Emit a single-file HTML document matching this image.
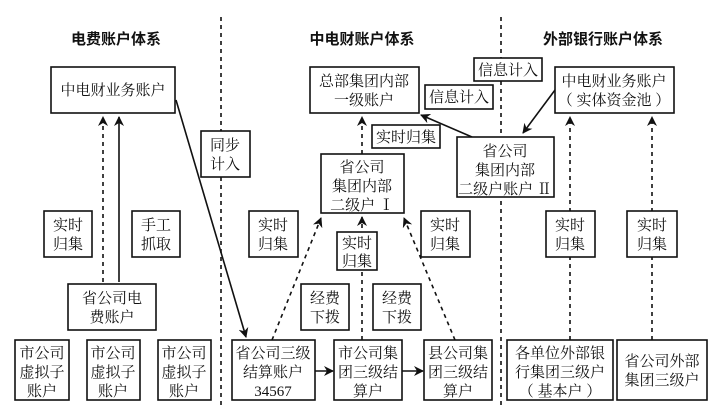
<!DOCTYPE html>
<html><head><meta charset="utf-8"><style>
html,body{margin:0;padding:0;background:#fff;}
svg{display:block}
.t{font-family:"Liberation Serif","Noto Serif CJK SC",serif;font-size:15px;fill:#111;text-anchor:middle}
.h{font-family:"Liberation Sans","Noto Sans CJK SC",sans-serif;font-size:15px;font-weight:bold;fill:#111;text-anchor:middle}
.b{fill:#fff;stroke:#111;stroke-width:1.6}
.s{stroke:#111;stroke-width:1.6;fill:none}
.d{stroke:#111;stroke-width:1.6;fill:none;stroke-dasharray:4,4}
</style></head><body>
<svg width="721" height="416" viewBox="0 0 721 416" xmlns="http://www.w3.org/2000/svg">
<defs><marker id="a" markerWidth="10" markerHeight="10" refX="9" refY="5" orient="auto" markerUnits="userSpaceOnUse"><path d="M0,0 L10,5 L0,10 L3,5 Z" fill="#111"/></marker></defs>
<line class="d" x1="221" y1="17" x2="221" y2="405"/>
<line class="d" x1="501" y1="17" x2="501" y2="405"/>
<text class="h" x="116" y="44">电费账户体系</text>
<text class="h" x="362" y="44">中电财账户体系</text>
<text class="h" x="603" y="44">外部银行账户体系</text>

<!-- left -->
<rect class="b" x="51" y="67" width="124" height="46"/>
<text class="t" x="113" y="95">中电财业务账户</text>
<line class="d" x1="103" y1="282" x2="103" y2="117" marker-end="url(#a)"/>
<line class="s" x1="119" y1="282" x2="119" y2="117" marker-end="url(#a)"/>
<rect class="b" x="44" y="211" width="48" height="46"/>
<text class="t" x="68" y="230">实时</text><text class="t" x="68" y="249">归集</text>
<rect class="b" x="132" y="211" width="48" height="46"/>
<text class="t" x="156" y="230">手工</text><text class="t" x="156" y="249">抓取</text>
<rect class="b" x="68" y="284" width="88" height="46"/>
<text class="t" x="112" y="303">省公司电</text><text class="t" x="112" y="322">费账户</text>
<rect class="b" x="15" y="340" width="54" height="60"/>
<text class="t" x="42" y="358">市公司</text><text class="t" x="42" y="377">虚拟子</text><text class="t" x="42" y="396">账户</text>
<rect class="b" x="87" y="340" width="53" height="60"/>
<text class="t" x="113" y="358">市公司</text><text class="t" x="113" y="377">虚拟子</text><text class="t" x="113" y="396">账户</text>
<rect class="b" x="158" y="340" width="53" height="60"/>
<text class="t" x="184" y="358">市公司</text><text class="t" x="184" y="377">虚拟子</text><text class="t" x="184" y="396">账户</text>
<line class="s" x1="176" y1="100" x2="246" y2="337" marker-end="url(#a)"/>
<rect class="b" x="201" y="131" width="49" height="46"/>
<text class="t" x="225" y="150">同步</text><text class="t" x="225" y="169">计入</text>

<!-- center -->
<rect class="b" x="310" y="67" width="109" height="46"/>
<text class="t" x="364" y="86">总部集团内部</text><text class="t" x="364" y="105">一级账户</text>
<rect class="b" x="474" y="58" width="68" height="23"/>
<text class="t" x="508" y="75">信息计入</text>
<rect class="b" x="425" y="85" width="68" height="24"/>
<text class="t" x="459" y="102">信息计入</text>
<line class="d" x1="362" y1="154" x2="362" y2="117" marker-end="url(#a)"/>
<line class="s" x1="472" y1="137" x2="421" y2="115" marker-end="url(#a)"/>
<rect class="b" x="372" y="125" width="68" height="23"/>
<text class="t" x="406" y="142">实时归集</text>
<rect class="b" x="321" y="154" width="83" height="59"/>
<text class="t" x="362" y="172">省公司</text><text class="t" x="362" y="191">集团内部</text><text class="t" x="362" y="210">二级户 Ⅰ</text>
<rect class="b" x="457" y="137" width="97" height="60"/>
<text class="t" x="505" y="156">省公司</text><text class="t" x="505" y="175">集团内部</text><text class="t" x="505" y="194">二级户账户 Ⅱ</text>
<rect class="b" x="555" y="67" width="119" height="46"/>
<text class="t" x="614" y="86">中电财业务账户</text><text class="t" x="614" y="105">（ 实体资金池 ）</text>
<line class="s" x1="555" y1="90" x2="523" y2="133" marker-end="url(#a)"/>

<line class="d" x1="272" y1="340" x2="321" y2="218" marker-end="url(#a)"/>
<line class="d" x1="362" y1="340" x2="362" y2="217" marker-end="url(#a)"/>
<line class="d" x1="455" y1="340" x2="404" y2="218" marker-end="url(#a)"/>
<rect class="b" x="249" y="211" width="49" height="46"/>
<text class="t" x="273" y="230">实时</text><text class="t" x="273" y="249">归集</text>
<rect class="b" x="337" y="232" width="40" height="38"/>
<text class="t" x="357" y="248">实时</text><text class="t" x="357" y="266">归集</text>
<rect class="b" x="421" y="211" width="49" height="46"/>
<text class="t" x="445" y="230">实时</text><text class="t" x="445" y="249">归集</text>
<rect class="b" x="301" y="284" width="48" height="46"/>
<text class="t" x="325" y="303">经费</text><text class="t" x="325" y="322">下拨</text>
<rect class="b" x="373" y="284" width="48" height="46"/>
<text class="t" x="397" y="303">经费</text><text class="t" x="397" y="322">下拨</text>

<rect class="b" x="232" y="340" width="83" height="60"/>
<text class="t" x="273" y="358">省公司三级</text><text class="t" x="273" y="377">结算账户</text><text class="t" x="273" y="396">34567</text>
<rect class="b" x="334" y="340" width="68" height="60"/>
<text class="t" x="368" y="358">市公司集</text><text class="t" x="368" y="377">团三级结</text><text class="t" x="368" y="396">算户</text>
<rect class="b" x="424" y="340" width="68" height="60"/>
<text class="t" x="458" y="358">县公司集</text><text class="t" x="458" y="377">团三级结</text><text class="t" x="458" y="396">算户</text>
<line class="s" x1="315" y1="371" x2="333" y2="371" marker-end="url(#a)"/>
<line class="s" x1="402" y1="371" x2="423" y2="371" marker-end="url(#a)"/>

<!-- right -->
<line class="d" x1="570" y1="340" x2="570" y2="117" marker-end="url(#a)"/>
<line class="d" x1="652" y1="340" x2="652" y2="117" marker-end="url(#a)"/>
<rect class="b" x="546" y="211" width="49" height="46"/>
<text class="t" x="570" y="230">实时</text><text class="t" x="570" y="249">归集</text>
<rect class="b" x="627" y="211" width="50" height="46"/>
<text class="t" x="652" y="230">实时</text><text class="t" x="652" y="249">归集</text>
<rect class="b" x="507" y="340" width="106" height="60"/>
<text class="t" x="560" y="358">各单位外部银</text><text class="t" x="560" y="377">行集团三级户</text><text class="t" x="560" y="396">（ 基本户 ）</text>
<rect class="b" x="617" y="340" width="90" height="60"/>
<text class="t" x="662" y="366">省公司外部</text><text class="t" x="662" y="385">集团三级户</text>
</svg>
</body></html>
